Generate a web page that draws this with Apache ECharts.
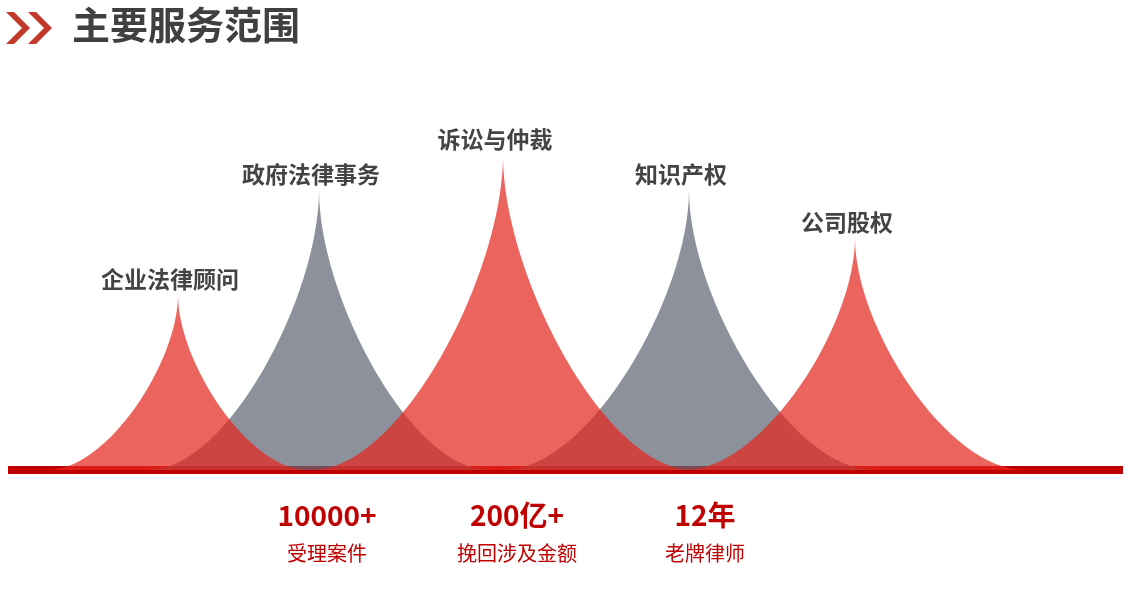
<!DOCTYPE html><html><head><meta charset="utf-8"><script src="https://cdn.jsdelivr.net/npm/echarts@6/dist/echarts.min.js"></script>
<style>html,body{margin:0;background:#fff}#c{width:1130px;height:589px}</style></head><body><div id="c"></div><script>
const names=['企业法律顾问','政府法律事务','诉讼与仲裁','知识产权','公司股权'];
const centers=[178,319,503,689,855];
const heights=[175,280,315,280,232];
const widths=[260,340,380,370,340];
const colors=['rgba(228,40,32,0.72)','rgba(95,103,117,0.72)','rgba(228,40,32,0.72)','rgba(95,103,117,0.72)','rgba(228,40,32,0.72)'];
const drawOrder=[1,3,0,2,4];
const stats=[['10000+','受理案件',327],['200亿+','挽回涉及金额',517],['12年','老牌律师',705]];
const ch=echarts.init(document.getElementById('c'));
const data=drawOrder.map(i=>({name:names[i],value:[centers[i],heights[i],widths[i]],itemStyle:{color:colors[i]}}));
const F='"Noto Sans CJK SC","Noto Sans",sans-serif';
ch.setOption({
 grid:{left:0,right:0,top:0,bottom:119},
 xAxis:{type:'value',min:0,max:1130,show:false},
 yAxis:{type:'value',min:0,max:470,show:false},
 series:[{type:'custom',data:data,renderItem:(p,api)=>{
   const cx=api.value(0),h=api.value(1),w=api.value(2);
   const b=api.coord([cx,0]),t=api.coord([cx,h]),l=api.coord([cx-w/2,0]),r=api.coord([cx+w/2,0]);
   const W=r[0]-l[0],H=b[1]-t[1],x0=l[0],y0=t[1];
   const X=f=>x0+W*f/10,Y=f=>y0+H*f/10;
   const path=`M${X(0)},${Y(10)} C${X(2.3)},${Y(10)} ${X(5)},${Y(3.8)} ${X(5)},${Y(0)} C${X(5)},${Y(3.8)} ${X(7.7)},${Y(10)} ${X(10)},${Y(10)} Z`;
   return {type:'group',children:[
    {type:'path',shape:{pathData:path},style:{fill:api.style().fill}},
    {type:'text',style:{text:data[p.dataIndex].name,x:t[0]-8,y:t[1]-4,align:'center',verticalAlign:'bottom',fill:'#444',font:'bold 23px '+F}}]};
 }}],
 graphic:[
  {type:'rect',shape:{x:8,y:466,width:1115,height:8},style:{fill:'#c00000'}},
  {type:'polygon',shape:{points:[[6,12],[14,12],[30,28],[14,44],[6,44],[22,28]]},style:{fill:'#c0392b'}},
  {type:'polygon',shape:{points:[[28,12],[36,12],[52,28],[36,44],[28,44],[44,28]]},style:{fill:'#c0392b'}},
  {type:'text',style:{text:'主要服务范围',x:72,y:6,fill:'#404040',font:'bold 38px '+F}},
  ...stats.flatMap(s=>[
   {type:'text',style:{text:s[0],x:s[2],y:501,align:'center',fill:'#c00000',font:'bold 28px '+F}},
   {type:'text',style:{text:s[1],x:s[2],y:543,align:'center',fill:'#c00000',font:'20px '+F}}])
 ]
});
</script></body></html>
